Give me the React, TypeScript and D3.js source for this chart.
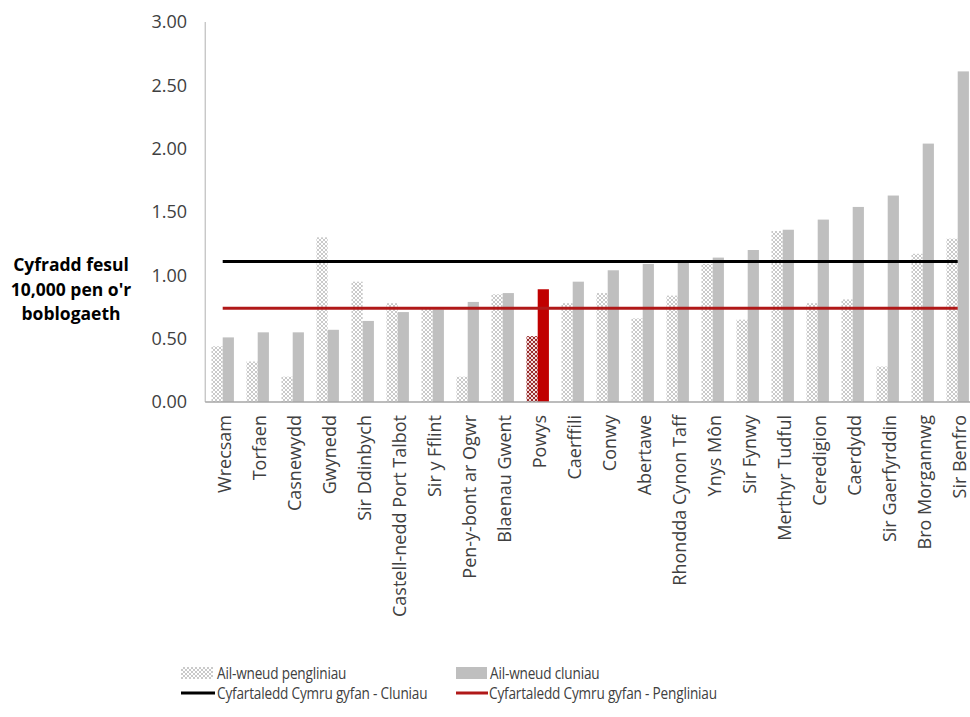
import React from "react";
import * as d3 from "d3";

const categories = ["Wrecsam","Torfaen","Casnewydd","Gwynedd","Sir Ddinbych","Castell-nedd Port Talbot","Sir y Fflint","Pen-y-bont ar Ogwr","Blaenau Gwent","Powys","Caerffili","Conwy","Abertawe","Rhondda Cynon Taff","Ynys Môn","Sir Fynwy","Merthyr Tudful","Ceredigion","Caerdydd","Sir Gaerfyrddin","Bro Morgannwg","Sir Benfro"];
const kneeRedo = [0.44,0.32,0.20,1.30,0.95,0.78,0.74,0.20,0.85,0.52,0.78,0.86,0.66,0.84,1.09,0.65,1.35,0.78,0.81,0.28,1.17,1.29];
const hipRedo = [0.51,0.55,0.55,0.57,0.64,0.71,0.73,0.79,0.86,0.89,0.95,1.04,1.09,1.10,1.14,1.20,1.36,1.44,1.54,1.63,2.04,2.61];
const walesHipAvg = 1.11;
const walesKneeAvg = 0.74;
const yTicks = [0, 0.5, 1, 1.5, 2, 2.5, 3];
const highlight = "Powys";
const legendLabels = ["Ail-wneud pengliniau", "Ail-wneud cluniau", "Cyfartaledd Cymru gyfan - Cluniau", "Cyfartaledd Cymru gyfan - Pengliniau"];
const yTitle = ["Cyfradd fesul", "10,000 pen o'r", "boblogaeth"];

const W = 970, H = 717;
const left = 205.2, bottom = 402, top = 22;
const step = 35.0;

export default function App() {
  const x = d3.scaleBand<string>().domain(categories).range([left, left + step * categories.length]).padding(0);
  const sub = d3.scaleBand<string>().domain(["k", "h"]).range([0, x.bandwidth()]).paddingInner(0).paddingOuter(0.56);
  const y = d3.scaleLinear().domain([0, 3]).range([bottom, top]);
  const font = "'Open Sans', sans-serif";
  const firstC = x(categories[0])! + x.bandwidth() / 2;
  const lastC = x(categories[categories.length - 1])! + x.bandwidth() / 2;

  const legendText = (s: string, lx: number, ly: number) => (
    <text transform={`translate(${lx},${ly}) scale(0.85,1)`} dy="0.36em" fontSize={16} letterSpacing={-0.2} fill="#404040">{s}</text>
  );

  return (
    <svg width={W} height={H} style={{ position: "absolute", left: 0, top: 0, background: "#fff" }} fontFamily={font}>
      <defs>
        <pattern id="hatch" width="4" height="4" patternUnits="userSpaceOnUse">
          <rect width="4" height="4" fill="#fff" />
          <path d="M0,0 L4,4 M4,0 L0,4" stroke="#c4c4c4" strokeWidth="0.9" />
        </pattern>
        <pattern id="hatchRed" width="4" height="4" patternUnits="userSpaceOnUse">
          <rect width="4" height="4" fill="#f3dede" />
          <path d="M0,0 L4,4 M4,0 L0,4" stroke="#8e1a1a" strokeWidth="0.9" />
        </pattern>
      </defs>

      {/* y tick labels */}
      {yTicks.map((t) => (
        <text key={t} x={187} y={y(t)} dy="0.35em" textAnchor="end" fontSize={18} fill="#404040">
          {t.toFixed(2)}
        </text>
      ))}

      {/* y title */}
      {yTitle.map((l, i) => (
        <text key={l} x={71} y={265 + i * 24.5} dy="0.35em" textAnchor="middle" fontSize={17.5} fontWeight="bold" fill="#000">
          {l}
        </text>
      ))}

      {/* axes */}
      <line x1={left} x2={left} y1={top} y2={bottom} stroke="#b0b0b0" strokeWidth={1} />

      {/* bars */}
      {categories.map((c, i) => {
        const bx = x(c)!;
        const hl = c === highlight;
        return (
          <g key={c}>
            <rect x={bx + sub("k")!} y={y(kneeRedo[i])} width={sub.bandwidth()} height={bottom - y(kneeRedo[i])} fill={hl ? "url(#hatchRed)" : "url(#hatch)"} />
            <rect x={bx + sub("h")!} y={y(hipRedo[i])} width={sub.bandwidth()} height={bottom - y(hipRedo[i])} fill={hl ? "#c00000" : "#bfbfbf"} />
          </g>
        );
      })}

      <line x1={left} x2={W} y1={bottom} y2={bottom} stroke="#a6a6a6" strokeWidth={1.5} />

      {/* average lines */}
      <line x1={firstC} x2={lastC} y1={y(walesHipAvg)} y2={y(walesHipAvg)} stroke="#000" strokeWidth={3} />
      <line x1={firstC} x2={lastC} y1={y(walesKneeAvg)} y2={y(walesKneeAvg)} stroke="#b01818" strokeWidth={3} />

      {/* x labels */}
      {categories.map((c) => {
        const cx = x(c)! + x.bandwidth() / 2 + 2;
        return (
          <text key={c} transform={`translate(${cx},415) rotate(-90)`} dy="0.35em" textAnchor="end" fontSize={18} fill="#404040">
            {c}
          </text>
        );
      })}

      {/* legend */}
      <rect x={181} y={667} width={32} height={12} fill="url(#hatch)" />
      {legendText(legendLabels[0], 217, 673)}
      <rect x={456} y={667} width={31} height={12} fill="#bfbfbf" />
      {legendText(legendLabels[1], 490, 673)}
      <line x1={181} x2={215} y1={693} y2={693} stroke="#000" strokeWidth={3} />
      {legendText(legendLabels[2], 217, 693)}
      <line x1={456} x2={488} y1={693} y2={693} stroke="#b01818" strokeWidth={3} />
      {legendText(legendLabels[3], 489, 693)}
    </svg>
  );
}
